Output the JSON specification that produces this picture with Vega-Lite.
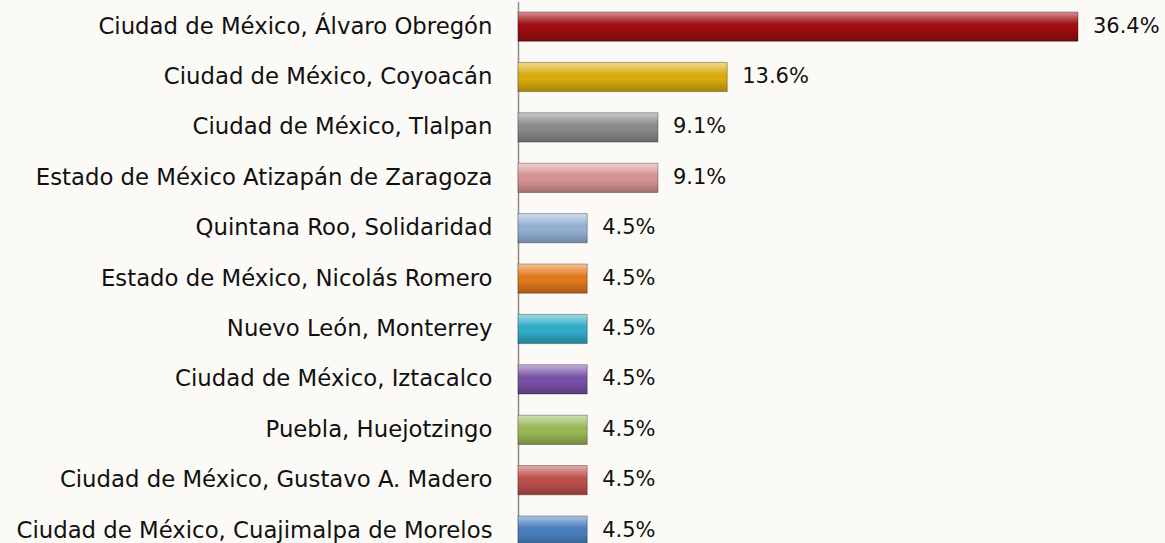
{
  "$schema": "https://vega.github.io/schema/vega-lite/v6.json",
  "autosize": "none",
  "padding": {"left": 518, "top": 1.4, "right": 87, "bottom": 0},
  "width": 560,
  "height": {"step": 50.4},
  "background": "#fcfaf6",
  "config": {"view": {"stroke": null}, "font": "DejaVu Sans"},
  "data": {
    "values": [
      {"orden": 1, "lugar": "Ciudad de México, Álvaro Obregón", "pct": 36.4, "etiqueta": "36.4%"},
      {"orden": 2, "lugar": "Ciudad de México, Coyoacán", "pct": 13.6, "etiqueta": "13.6%"},
      {"orden": 3, "lugar": "Ciudad de México, Tlalpan", "pct": 9.1, "etiqueta": "9.1%"},
      {"orden": 4, "lugar": "Estado de México Atizapán de Zaragoza", "pct": 9.1, "etiqueta": "9.1%"},
      {"orden": 5, "lugar": "Quintana Roo, Solidaridad", "pct": 4.5, "etiqueta": "4.5%"},
      {"orden": 6, "lugar": "Estado de México, Nicolás Romero", "pct": 4.5, "etiqueta": "4.5%"},
      {"orden": 7, "lugar": "Nuevo León, Monterrey", "pct": 4.5, "etiqueta": "4.5%"},
      {"orden": 8, "lugar": "Ciudad de México, Iztacalco", "pct": 4.5, "etiqueta": "4.5%"},
      {"orden": 9, "lugar": "Puebla, Huejotzingo", "pct": 4.5, "etiqueta": "4.5%"},
      {"orden": 10, "lugar": "Ciudad de México, Gustavo A. Madero", "pct": 4.5, "etiqueta": "4.5%"},
      {"orden": 11, "lugar": "Ciudad de México, Cuajimalpa de Morelos", "pct": 4.5, "etiqueta": "4.5%"}
    ]
  },
  "encoding": {
    "y": {
      "field": "lugar",
      "type": "nominal",
      "sort": {"field": "orden", "order": "ascending"},
      "scale": {"paddingInner": 0.42, "paddingOuter": 0.21},
      "axis": {
        "title": null,
        "ticks": false,
        "labelPadding": 26,
        "labelFontSize": 22.8,
        "labelColor": "#111111",
        "labelLimit": 0,
        "domainColor": "#8a8a8a",
        "domainWidth": 1.5,
        "grid": false
      }
    },
    "x": {
      "field": "pct",
      "type": "quantitative",
      "scale": {"domain": [0, 36.4], "nice": false},
      "axis": null
    }
  },
  "layer": [
    {
      "mark": {"type": "bar"},
      "encoding": {
        "color": {
          "field": "lugar",
          "type": "nominal",
          "sort": {"field": "orden", "order": "ascending"},
          "scale": {
            "range": ["#a00d10", "#dcae0c", "#8c8c8c", "#d99694", "#95b3d7", "#e47a1c", "#31aecb", "#7a52a8", "#9bbb59", "#c0504d", "#4a7fc0"]
          },
          "legend": null
        }
      }
    },
    {
      "mark": {
        "type": "bar",
        "stroke": "rgba(0,0,0,0.3)",
        "strokeWidth": 1,
        "color": {
          "gradient": "linear",
          "x1": 0, "y1": 0, "x2": 0, "y2": 1,
          "stops": [
            {"offset": 0, "color": "rgba(255,255,255,0.55)"},
            {"offset": 0.3, "color": "rgba(255,255,255,0.15)"},
            {"offset": 0.55, "color": "rgba(0,0,0,0)"},
            {"offset": 1, "color": "rgba(0,0,0,0.25)"}
          ]
        }
      }
    },
    {
      "mark": {"type": "text", "align": "left", "baseline": "middle", "dx": 15, "fontSize": 21, "color": "#111111"},
      "encoding": {"text": {"field": "etiqueta"}}
    }
  ]
}
